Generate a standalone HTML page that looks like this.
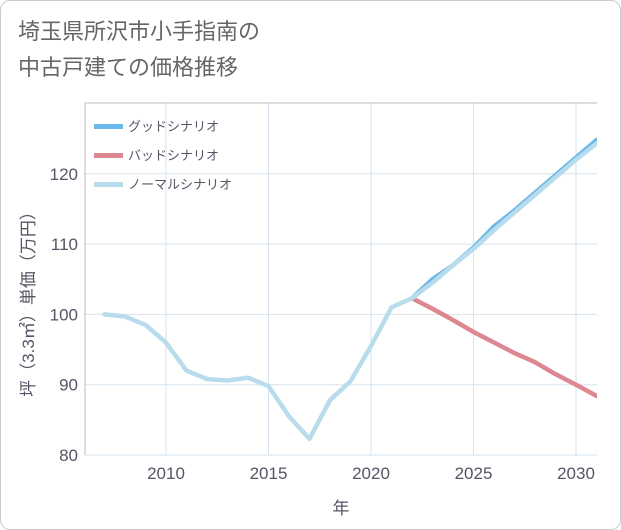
<!DOCTYPE html>
<html><head><meta charset="utf-8"><style>
body{margin:0;width:621px;height:530px;background:#fff;font-family:"Liberation Sans","Noto Sans CJK JP",sans-serif;}
#card{position:absolute;left:0;top:0;width:619px;height:528px;border:1px solid #ccc;border-radius:10px;background:#fff;}
#title{position:absolute;left:18px;top:14px;font-size:22px;line-height:36px;color:#666;font-weight:normal;}
</style></head><body>
<div id="card"></div>
<div id="title">埼玉県所沢市小手指南の<br>中古戸建ての価格推移</div>
<svg id="chart" width="621" height="530" style="position:absolute;left:0;top:0"></svg>
<script>
const years=[2007,2008,2009,2010,2011,2012,2013,2014,2015,2016,2017,2018,2019,2020,2021,2022,2023,2024,2025,2026,2027,2028,2029,2030,2031];
const normal=[100,99.7,98.5,96,92,90.8,90.6,91,89.8,85.5,82.3,87.8,90.5,95.5,101,102.3,104.5,107,109.3,112,114.5,117,119.5,122,124.3];
const goodYears=[2022,2023,2024,2025,2026,2027,2028,2029,2030,2031];
const good=[102.3,105,107,109.5,112.5,114.8,117.3,119.8,122.3,124.8];
const badYears=[2022,2023,2024,2025,2026,2027,2028,2029,2030,2031];
const bad=[102.3,100.8,99.2,97.5,96,94.5,93.2,91.5,90,88.4];
const xTicks=[2010,2015,2020,2025,2030];
const yTicks=[80,90,100,110,120];
const L=85,R=597,T=103,B=455;
const x=v=>166+(v-2010)*20.5;
const y=v=>455-(v-80)*7.03;
const svg=document.getElementById('chart');
const NS='http://www.w3.org/2000/svg';
function mk(t,a,p){const e=document.createElementNS(NS,t);for(const k in a)e.setAttribute(k,a[k]);(p||svg).appendChild(e);return e;}
const bg=mk('rect',{x:L,y:T,width:R-L,height:B-T,fill:'#fff'});


xTicks.forEach(v=>{const l=mk('line',{x1:x(v),x2:x(v),y1:T,y2:B,stroke:'#d6e3ee','stroke-width':1});


const t=mk('text',{x:x(v),y:479,'text-anchor':'middle','font-size':17,fill:'#556'});t.textContent=v;

});
yTicks.forEach(v=>{const l=mk('line',{x1:L,x2:R,y1:y(v),y2:y(v),stroke:'#d6e3ee','stroke-width':1});


const t=mk('text',{x:78,y:y(v)+6,'text-anchor':'end','font-size':17,fill:'#556'});t.textContent=v;

});
const ax=mk('path',{d:`M${L},${T}H${R}M${L},${T}V${B}`,stroke:'#bbb','stroke-width':1,fill:'none'});


function line(xs,vs,c,n){const p=mk('polyline',{points:xs.map((v,i)=>x(v)+','+y(vs[i])).join(' '),fill:'none',stroke:c,'stroke-width':4.5,'stroke-linejoin':'round','stroke-linecap':'round'});

}
const clip=mk('clipPath',{id:'c'});mk('rect',{x:L,y:T,width:R-L,height:B-T},clip);
line(goodYears,good,'#6bb8ea','good-scenario-line');
line(badYears,bad,'#dd8890','bad-scenario-line');
line(years,normal,'#b8dcec','normal-scenario-line');
svg.querySelectorAll('polyline').forEach(p=>p.setAttribute('clip-path','url(#c)'));
const lg=[['グッドシナリオ','#6bb8ea'],['バッドシナリオ','#dd8890'],['ノーマルシナリオ','#b8dcec']];
lg.forEach((d,i)=>{const yy=126+i*29;
const r=mk('rect',{x:94,y:yy-2,width:29,height:5,fill:d[1]});


const t=mk('text',{x:128,y:yy+5,'font-size':13,fill:'#556'});t.textContent=d[0];

});
const xt=mk('text',{x:341,y:514,'text-anchor':'middle','font-size':17,fill:'#556'});xt.textContent='年';


const yt=mk('text',{x:0,y:0,'text-anchor':'middle','font-size':17,fill:'#556',transform:'translate(34,300) rotate(-90)'});yt.textContent='坪（3.3㎡）単価（万円）';


</script>
</body></html>
